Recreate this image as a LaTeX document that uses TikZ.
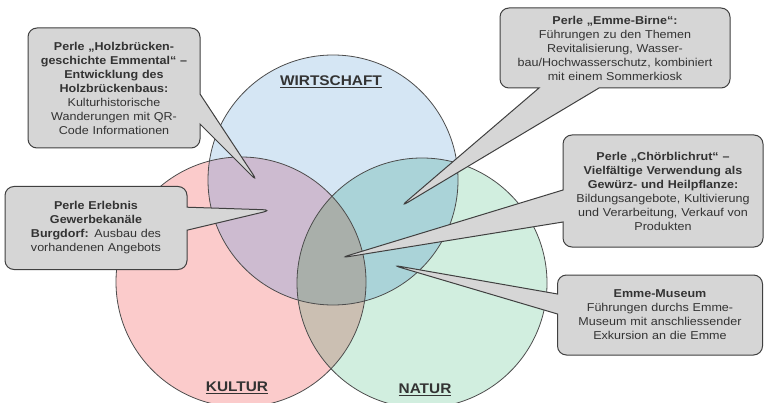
\documentclass[tikz,border=0pt]{standalone}
\usepackage{fontspec}
\setmainfont[FakeStretch=1.1]{Liberation Sans}
\usetikzlibrary{shapes.callouts}
\definecolor{wfill}{HTML}{D5E6F4}
\definecolor{kfill}{HTML}{FBCBCB}
\definecolor{nfill}{HTML}{D1EEDF}
\definecolor{wkfill}{HTML}{CDBBD0}
\definecolor{wnfill}{HTML}{AAD3D8}
\definecolor{knfill}{HTML}{CBBFB2}
\definecolor{wknfill}{HTML}{A9AFAA}
\definecolor{boxfill}{HTML}{D6D6D6}
\definecolor{txt}{HTML}{333333}
\begin{document}
\begin{tikzpicture}[x=1pt,y=-1pt,
  callbox/.style={rectangle callout, rounded corners=9pt, draw=black!75, line width=1pt,
    fill=boxfill, align=center, font=\fontsize{11.4}{14}\selectfont, text=txt, inner sep=2pt},
  circfill/.style={circle, minimum size=250pt, inner sep=0pt},
  circline/.style={draw=black!70, line width=0.8pt},
  setlabel/.style={font=\bfseries\fontsize{14}{16}\selectfont, text=txt}]
\useasboundingbox (0,0) rectangle (767,403);
\fill[white] (0,0) rectangle (767,403);
% circles
\node[circfill, fill=wfill] (W) at (333,180) {};
\node[circfill, fill=kfill] (K) at (241,282) {};
\node[circfill, fill=nfill] (N) at (422,283) {};
\begin{scope}
  \clip (W.center) circle[radius=125pt];
  \fill[wkfill] (K.center) circle[radius=125pt];
  \fill[wnfill] (N.center) circle[radius=125pt];
\end{scope}
\begin{scope}
  \clip (K.center) circle[radius=125pt];
  \fill[knfill] (N.center) circle[radius=125pt];
\end{scope}
\begin{scope}
  \clip (W.center) circle[radius=125pt];
  \clip (K.center) circle[radius=125pt];
  \fill[wknfill] (N.center) circle[radius=125pt];
\end{scope}
\draw[circline] (W.center) circle[radius=125pt];
\draw[circline] (K.center) circle[radius=125pt];
\draw[circline] (N.center) circle[radius=125pt];
% labels
\node[setlabel] (lw) at (331,82) {\underline{WIRTSCHAFT}};
\node[setlabel] (lk) at (237,388) {\underline{KULTUR}};
\node[setlabel] (ln) at (425,390) {\underline{NATUR}};
% pointer tips
\coordinate (t1) at (258,182);
\coordinate (t2) at (400,207);
\coordinate (t3) at (340,258);
\coordinate (t4) at (392,265);
\coordinate (t5) at (272,210);
% callouts
\node[callbox, minimum width=172pt, minimum height=120pt, text width=168pt,
  callout absolute pointer=(t1), callout pointer width=30pt] (b1) at (114,88)
  {{\bfseries Perle „Holzbrücken-\\geschichte Emmental“ –\\Entwicklung des\\Holzbrückenbaus:}\\Kulturhistorische\\Wanderungen mit QR-\\Code Informationen};
\node[callbox, minimum width=230pt, minimum height=80pt, text width=226pt,
  callout absolute pointer=(t2), callout pointer width=60pt] (b2) at (615,48)
  {{\bfseries Perle „Emme-Birne“:}\\Führungen zu den Themen\\Revitalisierung, Wasser-\\bau/Hochwasserschutz, kombiniert\\mit einem Sommerkiosk};
\node[callbox, minimum width=200pt, minimum height=112pt, text width=196pt,
  callout absolute pointer=(t3), callout pointer width=32pt] (b3) at (663,191)
  {{\bfseries Perle „Chörblichrut“ –\\Vielfältige Verwendung als\\Gewürz- und Heilpflanze:}\\Bildungsangebote, Kultivierung\\und Verarbeitung, Verkauf von\\Produkten};
\node[callbox, minimum width=205pt, minimum height=80pt, text width=201pt,
  callout absolute pointer=(t4), callout pointer width=20pt] (b4) at (660,315)
  {{\bfseries Emme-Museum}\\Führungen durchs Emme-\\Museum mit anschliessender\\Exkursion an die Emme};
\node[callbox, minimum width=182pt, minimum height=83pt, text width=178pt,
  callout absolute pointer=(t5), callout pointer width=23pt] (b5) at (96,228)
  {{\bfseries Perle Erlebnis\\Gewerbekanäle\\Burgdorf:} Ausbau des\\vorhandenen Angebots};
\end{tikzpicture}
\end{document}
